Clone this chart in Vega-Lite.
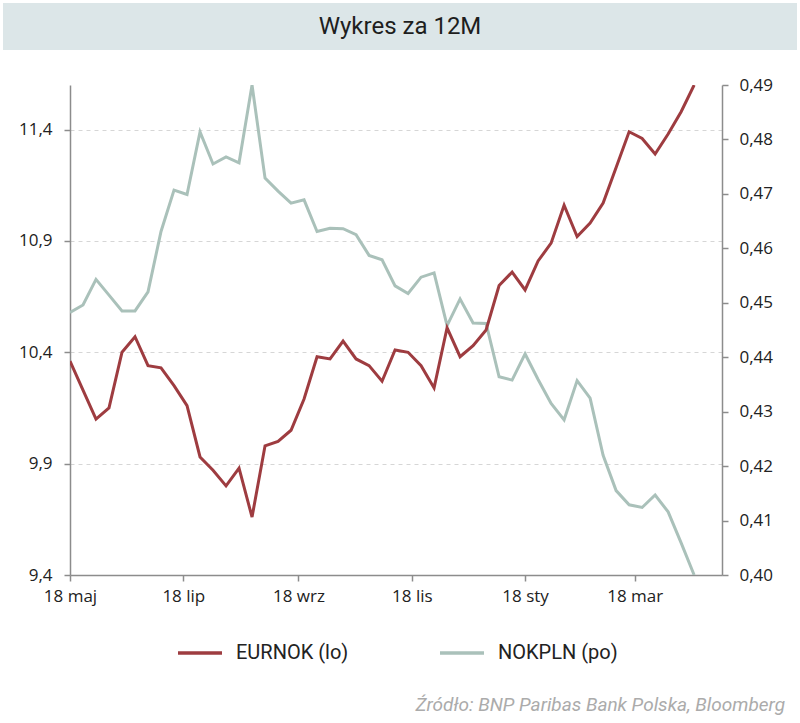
{
  "$schema": "https://vega.github.io/schema/vega-lite/v6.json",
  "padding": {"top": 3, "left": 3, "right": 3, "bottom": 0},
  "background": "white",
  "spacing": 26,
  "config": {
    "locale": {
      "number": {"decimal": ",", "thousands": " ", "grouping": [3], "currency": ["", " zł"]},
      "time": {
        "dateTime": "%A, %e %B %Y, %X", "date": "%d.%m.%Y", "time": "%H:%M:%S", "periods": ["AM", "PM"],
        "days": ["niedziela", "poniedziałek", "wtorek", "środa", "czwartek", "piątek", "sobota"],
        "shortDays": ["niedz.", "pon.", "wt.", "śr.", "czw.", "pt.", "sob."],
        "months": ["styczeń", "luty", "marzec", "kwiecień", "maj", "czerwiec", "lipiec", "sierpień", "wrzesień", "październik", "listopad", "grudzień"],
        "shortMonths": ["sty", "lut", "mar", "kwi", "maj", "cze", "lip", "sie", "wrz", "paź", "lis", "gru"]
      }
    },
    "view": {"stroke": null},
    "axis": {
      "domainColor": "#8c8c8c", "domainWidth": 1.5, "tickColor": "#8c8c8c", "tickWidth": 1.5, "tickSize": 6,
      "labelFont": "Open Sans", "labelFontSize": 17, "labelColor": "#222222",
      "gridColor": "#d6d6d6", "gridDash": [4, 4], "gridWidth": 1, "title": null
    }
  },
  "title": {
    "text": "Źródło:  BNP Paribas Bank Polska, Bloomberg", "orient": "bottom", "anchor": "end",
    "font": "Roboto", "fontSize": 19, "fontStyle": "italic", "fontWeight": "normal", "color": "#ababab", "offset": 33, "dx": -12
  },
  "datasets": {
    "fx": [
      {"d": "2022-05-18", "eurnok": 10.36, "nokpln": 0.4482},
      {"d": "2022-05-25", "eurnok": 10.23, "nokpln": 0.4496},
      {"d": "2022-06-01", "eurnok": 10.10, "nokpln": 0.4543},
      {"d": "2022-06-08", "eurnok": 10.15, "nokpln": 0.4514},
      {"d": "2022-06-15", "eurnok": 10.40, "nokpln": 0.4485},
      {"d": "2022-06-22", "eurnok": 10.47, "nokpln": 0.4485},
      {"d": "2022-06-29", "eurnok": 10.34, "nokpln": 0.4520},
      {"d": "2022-07-06", "eurnok": 10.33, "nokpln": 0.4631},
      {"d": "2022-07-13", "eurnok": 10.25, "nokpln": 0.4707},
      {"d": "2022-07-20", "eurnok": 10.16, "nokpln": 0.4699},
      {"d": "2022-07-27", "eurnok": 9.93, "nokpln": 0.4814},
      {"d": "2022-08-03", "eurnok": 9.87, "nokpln": 0.4755},
      {"d": "2022-08-10", "eurnok": 9.80, "nokpln": 0.4768},
      {"d": "2022-08-17", "eurnok": 9.88, "nokpln": 0.4757},
      {"d": "2022-08-24", "eurnok": 9.66, "nokpln": 0.4900},
      {"d": "2022-08-31", "eurnok": 9.98, "nokpln": 0.4729},
      {"d": "2022-09-07", "eurnok": 10.00, "nokpln": 0.4705},
      {"d": "2022-09-14", "eurnok": 10.05, "nokpln": 0.4683},
      {"d": "2022-09-21", "eurnok": 10.19, "nokpln": 0.4689},
      {"d": "2022-09-28", "eurnok": 10.38, "nokpln": 0.4631},
      {"d": "2022-10-05", "eurnok": 10.37, "nokpln": 0.4637},
      {"d": "2022-10-12", "eurnok": 10.45, "nokpln": 0.4636},
      {"d": "2022-10-19", "eurnok": 10.37, "nokpln": 0.4625},
      {"d": "2022-10-26", "eurnok": 10.34, "nokpln": 0.4587},
      {"d": "2022-11-02", "eurnok": 10.27, "nokpln": 0.4579},
      {"d": "2022-11-09", "eurnok": 10.41, "nokpln": 0.4531},
      {"d": "2022-11-16", "eurnok": 10.40, "nokpln": 0.4517},
      {"d": "2022-11-23", "eurnok": 10.34, "nokpln": 0.4547},
      {"d": "2022-11-30", "eurnok": 10.24, "nokpln": 0.4555},
      {"d": "2022-12-07", "eurnok": 10.51, "nokpln": 0.4458},
      {"d": "2022-12-14", "eurnok": 10.38, "nokpln": 0.4507},
      {"d": "2022-12-21", "eurnok": 10.43, "nokpln": 0.4463},
      {"d": "2022-12-28", "eurnok": 10.50, "nokpln": 0.4462},
      {"d": "2023-01-04", "eurnok": 10.70, "nokpln": 0.4364},
      {"d": "2023-01-11", "eurnok": 10.76, "nokpln": 0.4358},
      {"d": "2023-01-18", "eurnok": 10.68, "nokpln": 0.4406},
      {"d": "2023-01-25", "eurnok": 10.81, "nokpln": 0.4359},
      {"d": "2023-02-01", "eurnok": 10.89, "nokpln": 0.4315},
      {"d": "2023-02-08", "eurnok": 11.06, "nokpln": 0.4285},
      {"d": "2023-02-15", "eurnok": 10.92, "nokpln": 0.4357},
      {"d": "2023-02-22", "eurnok": 10.98, "nokpln": 0.4325},
      {"d": "2023-03-01", "eurnok": 11.07, "nokpln": 0.4220},
      {"d": "2023-03-08", "eurnok": 11.23, "nokpln": 0.4155},
      {"d": "2023-03-15", "eurnok": 11.39, "nokpln": 0.4129},
      {"d": "2023-03-22", "eurnok": 11.36, "nokpln": 0.4124},
      {"d": "2023-03-29", "eurnok": 11.29, "nokpln": 0.4147},
      {"d": "2023-04-05", "eurnok": 11.38, "nokpln": 0.4116},
      {"d": "2023-04-12", "eurnok": 11.48, "nokpln": 0.4059},
      {"d": "2023-04-19", "eurnok": 11.60, "nokpln": 0.4000}
    ],
    "head": [{"t": "Wykres za 12M"}]
  },
  "vconcat": [
    {
      "width": 794, "height": 47,
      "view": {"fill": "#dce6e8", "stroke": null},
      "data": {"name": "head"},
      "mark": {"type": "text", "font": "Roboto", "fontSize": 24, "color": "#1e1e1e", "align": "center", "baseline": "middle"},
      "encoding": {"text": {"field": "t", "type": "nominal"}}
    },
    {
      "spacing": 0,
      "hconcat": [
        {
          "width": 7, "height": 490,
          "data": {"name": "head"},
          "mark": {"type": "point", "opacity": 0},
          "encoding": {}
        },
        {
          "width": 652, "height": 490,
          "data": {"name": "fx"},
          "encoding": {
            "x": {
              "field": "d", "type": "temporal",
              "scale": {"type": "utc", "domain": [{"year": 2022, "month": 5, "date": 18, "utc": true}, {"year": 2023, "month": 5, "date": 4, "utc": true}]},
              "axis": {
                "values": [
                  {"year": 2022, "month": 5, "date": 18, "utc": true},
                  {"year": 2022, "month": 7, "date": 18, "utc": true},
                  {"year": 2022, "month": 9, "date": 18, "utc": true},
                  {"year": 2022, "month": 11, "date": 18, "utc": true},
                  {"year": 2023, "month": 1, "date": 18, "utc": true},
                  {"year": 2023, "month": 3, "date": 18, "utc": true}
                ],
                "format": "%d %b", "labelFlush": false, "labelOverlap": false, "labelPadding": 7, "grid": false
              }
            }
          },
          "layer": [
            {
              "mark": {"type": "line", "strokeWidth": 3, "clip": true},
              "encoding": {
                "y": {
                  "field": "nokpln", "type": "quantitative",
                  "scale": {"domain": [0.40, 0.49], "nice": false, "zero": false},
                  "axis": {"orient": "right", "values": [0.40, 0.41, 0.42, 0.43, 0.44, 0.45, 0.46, 0.47, 0.48, 0.49], "format": ".2f", "grid": false, "labelPadding": 11}
                },
                "color": {"datum": "NOKPLN (po)", "type": "nominal"}
              }
            },
            {
              "mark": {"type": "line", "strokeWidth": 3, "clip": true},
              "encoding": {
                "y": {
                  "field": "eurnok", "type": "quantitative",
                  "scale": {"domain": [9.4, 11.6], "nice": false, "zero": false},
                  "axis": {"orient": "left", "values": [9.4, 9.9, 10.4, 10.9, 11.4], "format": ".1f", "grid": true, "labelPadding": 12, "minExtent": 60}
                },
                "color": {
                  "datum": "EURNOK (lo)", "type": "nominal",
                  "scale": {"domain": ["EURNOK (lo)", "NOKPLN (po)"], "range": ["#9e3c40", "#aac1ba"]},
                  "legend": {
                    "orient": "none", "legendX": 173, "legendY": 626, "direction": "horizontal", "columns": 2, "title": null,
                    "symbolType": "stroke", "symbolSize": 1936, "symbolStrokeWidth": 3.5,
                    "labelFont": "Roboto", "labelFontSize": 20, "labelColor": "#222222", "labelOffset": 12, "labelLimit": 300,
                    "columnPadding": 84, "padding": 0
                  }
                }
              }
            }
          ],
          "resolve": {"scale": {"y": "independent"}}
        }
      ]
    }
  ]
}
